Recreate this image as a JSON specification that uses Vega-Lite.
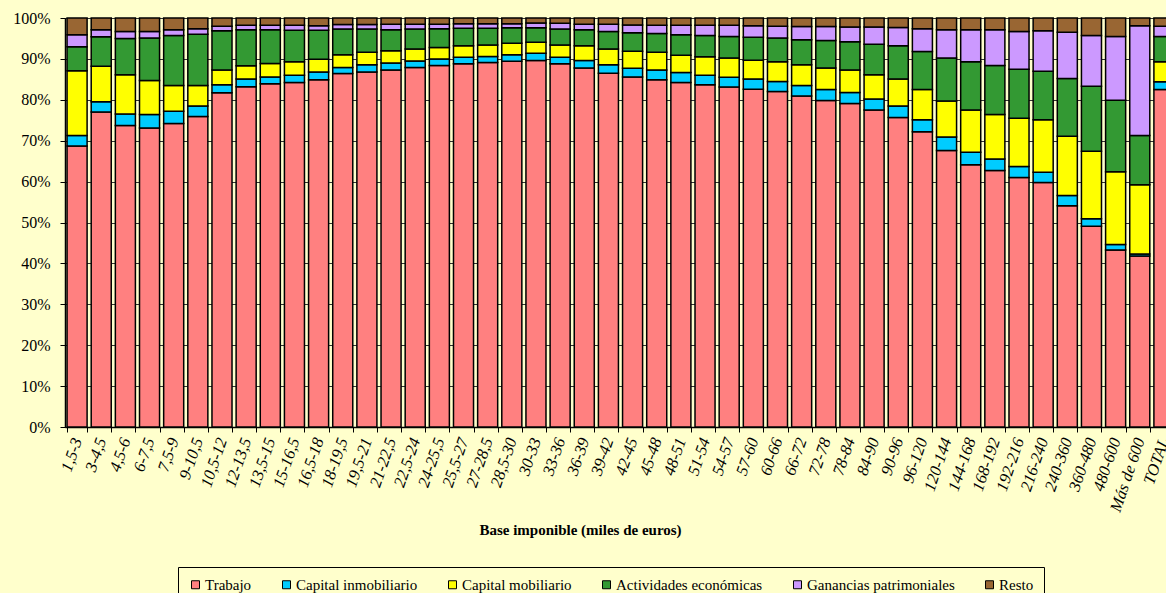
{
  "$schema": "https://vega.github.io/schema/vega-lite/v6.json",
  "width": 1111,
  "height": 409,
  "padding": {"left": 12, "top": 10, "right": 0, "bottom": 0},
  "background": "#FFFFCC",
  "config": {
    "view": {"stroke": "#333333", "fill": "#FFFFCC"},
    "font": "Liberation Serif"
  },
  "data": {
    "values": [
      {"c": "1,5-3", "Trabajo": 68.7, "Capital inmobiliario": 2.6, "Capital mobiliario": 15.8, "Actividades económicas": 5.9, "Ganancias patrimoniales": 2.9, "Resto": 4.1},
      {"c": "3-4,5", "Trabajo": 77.0, "Capital inmobiliario": 2.5, "Capital mobiliario": 8.7, "Actividades económicas": 7.2, "Ganancias patrimoniales": 1.7, "Resto": 2.9},
      {"c": "4,5-6", "Trabajo": 73.7, "Capital inmobiliario": 2.8, "Capital mobiliario": 9.6, "Actividades económicas": 8.9, "Ganancias patrimoniales": 1.7, "Resto": 3.3},
      {"c": "6-7,5", "Trabajo": 73.1, "Capital inmobiliario": 3.3, "Capital mobiliario": 8.3, "Actividades económicas": 10.4, "Ganancias patrimoniales": 1.6, "Resto": 3.3},
      {"c": "7,5-9", "Trabajo": 74.2, "Capital inmobiliario": 3.0, "Capital mobiliario": 6.3, "Actividades económicas": 12.2, "Ganancias patrimoniales": 1.4, "Resto": 2.9},
      {"c": "9-10,5", "Trabajo": 75.9, "Capital inmobiliario": 2.6, "Capital mobiliario": 5.0, "Actividades económicas": 12.5, "Ganancias patrimoniales": 1.4, "Resto": 2.6},
      {"c": "10,5-12", "Trabajo": 81.7, "Capital inmobiliario": 2.0, "Capital mobiliario": 3.6, "Actividades económicas": 9.6, "Ganancias patrimoniales": 1.1, "Resto": 2.0},
      {"c": "12-13,5", "Trabajo": 83.2, "Capital inmobiliario": 1.9, "Capital mobiliario": 3.2, "Actividades económicas": 8.8, "Ganancias patrimoniales": 1.1, "Resto": 1.8},
      {"c": "13,5-15", "Trabajo": 83.9, "Capital inmobiliario": 1.7, "Capital mobiliario": 3.3, "Actividades económicas": 8.2, "Ganancias patrimoniales": 1.1, "Resto": 1.8},
      {"c": "15-16,5", "Trabajo": 84.2, "Capital inmobiliario": 1.8, "Capital mobiliario": 3.3, "Actividades económicas": 7.7, "Ganancias patrimoniales": 1.2, "Resto": 1.8},
      {"c": "16,5-18", "Trabajo": 84.9, "Capital inmobiliario": 1.9, "Capital mobiliario": 3.1, "Actividades económicas": 7.1, "Ganancias patrimoniales": 1.1, "Resto": 1.9},
      {"c": "18-19,5", "Trabajo": 86.4, "Capital inmobiliario": 1.5, "Capital mobiliario": 3.1, "Actividades económicas": 6.3, "Ganancias patrimoniales": 1.1, "Resto": 1.6},
      {"c": "19,5-21", "Trabajo": 86.8, "Capital inmobiliario": 1.8, "Capital mobiliario": 3.0, "Actividades económicas": 5.7, "Ganancias patrimoniales": 1.1, "Resto": 1.6},
      {"c": "21-22,5", "Trabajo": 87.3, "Capital inmobiliario": 1.7, "Capital mobiliario": 3.0, "Actividades económicas": 5.1, "Ganancias patrimoniales": 1.4, "Resto": 1.5},
      {"c": "22,5-24", "Trabajo": 87.9, "Capital inmobiliario": 1.6, "Capital mobiliario": 2.9, "Actividades económicas": 4.9, "Ganancias patrimoniales": 1.2, "Resto": 1.5},
      {"c": "24-25,5", "Trabajo": 88.4, "Capital inmobiliario": 1.6, "Capital mobiliario": 2.8, "Actividades económicas": 4.6, "Ganancias patrimoniales": 1.1, "Resto": 1.5},
      {"c": "25,5-27", "Trabajo": 88.8, "Capital inmobiliario": 1.6, "Capital mobiliario": 2.8, "Actividades económicas": 4.3, "Ganancias patrimoniales": 1.1, "Resto": 1.4},
      {"c": "27-28,5", "Trabajo": 89.1, "Capital inmobiliario": 1.5, "Capital mobiliario": 2.8, "Actividades económicas": 4.1, "Ganancias patrimoniales": 1.1, "Resto": 1.4},
      {"c": "28,5-30", "Trabajo": 89.4, "Capital inmobiliario": 1.6, "Capital mobiliario": 2.8, "Actividades económicas": 3.8, "Ganancias patrimoniales": 1.0, "Resto": 1.4},
      {"c": "30-33", "Trabajo": 89.6, "Capital inmobiliario": 1.8, "Capital mobiliario": 2.7, "Actividades económicas": 3.5, "Ganancias patrimoniales": 1.2, "Resto": 1.2},
      {"c": "33-36", "Trabajo": 88.8, "Capital inmobiliario": 1.6, "Capital mobiliario": 3.0, "Actividades económicas": 3.9, "Ganancias patrimoniales": 1.4, "Resto": 1.3},
      {"c": "36-39", "Trabajo": 87.8, "Capital inmobiliario": 1.8, "Capital mobiliario": 3.6, "Actividades económicas": 3.9, "Ganancias patrimoniales": 1.4, "Resto": 1.5},
      {"c": "39-42", "Trabajo": 86.5, "Capital inmobiliario": 2.1, "Capital mobiliario": 3.8, "Actividades económicas": 4.3, "Ganancias patrimoniales": 1.8, "Resto": 1.5},
      {"c": "42-45", "Trabajo": 85.6, "Capital inmobiliario": 2.1, "Capital mobiliario": 4.2, "Actividades económicas": 4.5, "Ganancias patrimoniales": 1.9, "Resto": 1.7},
      {"c": "45-48", "Trabajo": 84.9, "Capital inmobiliario": 2.4, "Capital mobiliario": 4.3, "Actividades económicas": 4.6, "Ganancias patrimoniales": 2.0, "Resto": 1.8},
      {"c": "48-51", "Trabajo": 84.2, "Capital inmobiliario": 2.5, "Capital mobiliario": 4.2, "Actividades económicas": 5.0, "Ganancias patrimoniales": 2.3, "Resto": 1.8},
      {"c": "51-54", "Trabajo": 83.7, "Capital inmobiliario": 2.3, "Capital mobiliario": 4.5, "Actividades económicas": 5.2, "Ganancias patrimoniales": 2.5, "Resto": 1.8},
      {"c": "54-57", "Trabajo": 83.1, "Capital inmobiliario": 2.4, "Capital mobiliario": 4.7, "Actividades económicas": 5.3, "Ganancias patrimoniales": 2.7, "Resto": 1.8},
      {"c": "57-60", "Trabajo": 82.6, "Capital inmobiliario": 2.5, "Capital mobiliario": 4.6, "Actividades económicas": 5.6, "Ganancias patrimoniales": 2.8, "Resto": 1.9},
      {"c": "60-66", "Trabajo": 82.0, "Capital inmobiliario": 2.5, "Capital mobiliario": 4.8, "Actividades económicas": 5.8, "Ganancias patrimoniales": 2.9, "Resto": 2.0},
      {"c": "66-72", "Trabajo": 80.9, "Capital inmobiliario": 2.6, "Capital mobiliario": 5.1, "Actividades económicas": 6.1, "Ganancias patrimoniales": 3.2, "Resto": 2.1},
      {"c": "72-78", "Trabajo": 79.8, "Capital inmobiliario": 2.7, "Capital mobiliario": 5.3, "Actividades económicas": 6.7, "Ganancias patrimoniales": 3.4, "Resto": 2.1},
      {"c": "78-84", "Trabajo": 79.1, "Capital inmobiliario": 2.7, "Capital mobiliario": 5.5, "Actividades económicas": 6.9, "Ganancias patrimoniales": 3.6, "Resto": 2.2},
      {"c": "84-90", "Trabajo": 77.5, "Capital inmobiliario": 2.7, "Capital mobiliario": 5.9, "Actividades económicas": 7.5, "Ganancias patrimoniales": 4.2, "Resto": 2.2},
      {"c": "90-96", "Trabajo": 75.7, "Capital inmobiliario": 2.8, "Capital mobiliario": 6.6, "Actividades económicas": 8.1, "Ganancias patrimoniales": 4.5, "Resto": 2.3},
      {"c": "96-120", "Trabajo": 72.2, "Capital inmobiliario": 2.9, "Capital mobiliario": 7.4, "Actividades económicas": 9.3, "Ganancias patrimoniales": 5.6, "Resto": 2.6},
      {"c": "120-144", "Trabajo": 67.6, "Capital inmobiliario": 3.3, "Capital mobiliario": 8.8, "Actividades económicas": 10.5, "Ganancias patrimoniales": 6.9, "Resto": 2.9},
      {"c": "144-168", "Trabajo": 64.1, "Capital inmobiliario": 3.1, "Capital mobiliario": 10.3, "Actividades económicas": 11.8, "Ganancias patrimoniales": 7.8, "Resto": 2.9},
      {"c": "168-192", "Trabajo": 62.7, "Capital inmobiliario": 2.8, "Capital mobiliario": 10.9, "Actividades económicas": 12.0, "Ganancias patrimoniales": 8.7, "Resto": 2.9},
      {"c": "192-216", "Trabajo": 61.0, "Capital inmobiliario": 2.7, "Capital mobiliario": 11.8, "Actividades económicas": 12.0, "Ganancias patrimoniales": 9.2, "Resto": 3.3},
      {"c": "216-240", "Trabajo": 59.8, "Capital inmobiliario": 2.5, "Capital mobiliario": 12.8, "Actividades económicas": 11.9, "Ganancias patrimoniales": 9.9, "Resto": 3.1},
      {"c": "240-360", "Trabajo": 54.1, "Capital inmobiliario": 2.5, "Capital mobiliario": 14.5, "Actividades económicas": 14.1, "Ganancias patrimoniales": 11.3, "Resto": 3.5},
      {"c": "360-480", "Trabajo": 49.1, "Capital inmobiliario": 1.8, "Capital mobiliario": 16.5, "Actividades económicas": 15.9, "Ganancias patrimoniales": 12.4, "Resto": 4.3},
      {"c": "480-600", "Trabajo": 43.3, "Capital inmobiliario": 1.3, "Capital mobiliario": 17.8, "Actividades económicas": 17.5, "Ganancias patrimoniales": 15.6, "Resto": 4.5},
      {"c": "Más de 600", "Trabajo": 41.8, "Capital inmobiliario": 0.5, "Capital mobiliario": 16.9, "Actividades económicas": 12.1, "Ganancias patrimoniales": 26.8, "Resto": 1.9},
      {"c": "TOTAL", "Trabajo": 82.5, "Capital inmobiliario": 1.9, "Capital mobiliario": 4.9, "Actividades económicas": 6.2, "Ganancias patrimoniales": 2.5, "Resto": 2.0}
    ]
  },
  "transform": [
    {"fold": ["Trabajo", "Capital inmobiliario", "Capital mobiliario", "Actividades económicas", "Ganancias patrimoniales", "Resto"], "as": ["k", "v"]},
    {"calculate": "indexof(['Trabajo', 'Capital inmobiliario', 'Capital mobiliario', 'Actividades económicas', 'Ganancias patrimoniales', 'Resto'], datum.k)", "as": "o"}
  ],
  "mark": {"type": "bar", "stroke": "#000000", "strokeWidth": 1.5},
  "encoding": {
    "x": {
      "field": "c",
      "type": "nominal",
      "sort": null,
      "scale": {"paddingInner": 0.17, "paddingOuter": 0.085},
      "axis": {
        "title": "Base imponible (miles de euros)",
        "titleFont": "Liberation Serif",
        "titleFontSize": 15,
        "titleFontWeight": "bold",
        "titleColor": "#000000",
        "titleX": 515,
        "titlePadding": 9,
        "labelAngle": -71,
        "labelFont": "Liberation Serif",
        "labelFontStyle": "italic",
        "labelFontSize": 16.5,
        "labelColor": "#000000",
        "labelPadding": 6,
        "tickBand": "extent",
        "tickColor": "#000000",
        "tickSize": 5,
        "domainColor": "#000000",
        "domainWidth": 1.5,
        "grid": false
      }
    },
    "y": {
      "field": "v",
      "type": "quantitative",
      "stack": "normalize",
      "scale": {"domain": [0, 1], "nice": false},
      "axis": {
        "title": null,
        "format": ".0%",
        "values": [0, 0.1, 0.2, 0.3, 0.4, 0.5, 0.6, 0.7, 0.8, 0.9, 1],
        "labelFont": "Liberation Serif",
        "labelFontSize": 16,
        "labelColor": "#000000",
        "labelPadding": 10,
        "tickColor": "#000000",
        "tickSize": 5,
        "domainColor": "#000000",
        "domainWidth": 1.5,
        "grid": true,
        "gridColor": "#333333",
        "gridWidth": 1,
        "gridOpacity": 1
      }
    },
    "order": {"field": "o", "type": "quantitative", "sort": "ascending"},
    "color": {
      "field": "k",
      "type": "nominal",
      "sort": ["Trabajo", "Capital inmobiliario", "Capital mobiliario", "Actividades económicas", "Ganancias patrimoniales", "Resto"],
      "scale": {
        "domain": ["Trabajo", "Capital inmobiliario", "Capital mobiliario", "Actividades económicas", "Ganancias patrimoniales", "Resto"],
        "range": ["#FF8080", "#00CCFF", "#FFFF00", "#339933", "#CC99FF", "#996633"]
      },
      "legend": {
        "title": null,
        "orient": "none",
        "direction": "horizontal",
        "legendX": 113,
        "legendY": 549,
        "fillColor": "#FFFFCC",
        "strokeColor": "#000000",
        "padding": 10,
        "symbolType": "square",
        "symbolSize": 64,
        "symbolStrokeColor": "#000000",
        "symbolStrokeWidth": 1,
        "labelFont": "Liberation Serif",
        "labelFontSize": 15,
        "labelColor": "#000000",
        "labelOffset": 2,
        "columnPadding": 27
      }
    }
  }
}
